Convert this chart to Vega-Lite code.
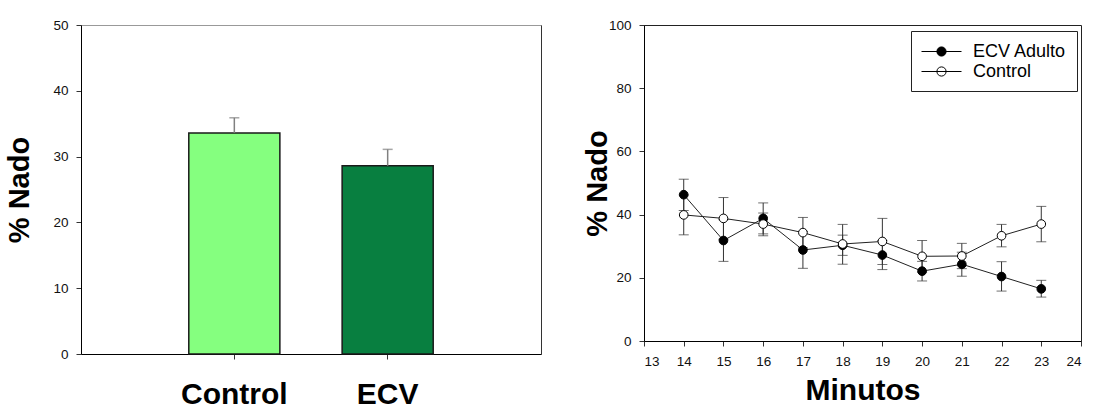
{
  "$schema": "https://vega.github.io/schema/vega-lite/v6.json",
  "background": "white",
  "padding": {"left": 5, "top": 17, "right": 5, "bottom": 0},
  "spacing": 40,
  "config": {
    "font": "Liberation Sans",
    "axis": {"grid": false, "domainColor": "#000", "tickColor": "#333", "labelColor": "#111", "titleColor": "#000", "labelFontSize": 13.5, "tickSize": 5, "domainWidth": 1}
  },
  "datasets": {
    "bars": [
      {"group": "Control", "mean": 33.6, "upper": 35.9},
      {"group": "ECV", "mean": 28.6, "upper": 31.1}
    ],
    "series": [
      {"minute": 14, "series": "ECV Adulto", "mean": 46.3, "lo": 41.3, "hi": 51.2},
      {"minute": 15, "series": "ECV Adulto", "mean": 31.8, "lo": 25.2, "hi": 38.4},
      {"minute": 16, "series": "ECV Adulto", "mean": 38.8, "lo": 33.9, "hi": 43.7},
      {"minute": 17, "series": "ECV Adulto", "mean": 28.8, "lo": 23.0, "hi": 34.6},
      {"minute": 18, "series": "ECV Adulto", "mean": 30.3, "lo": 27.1, "hi": 33.5},
      {"minute": 19, "series": "ECV Adulto", "mean": 27.2, "lo": 22.6, "hi": 31.8},
      {"minute": 20, "series": "ECV Adulto", "mean": 22.1, "lo": 19.0, "hi": 25.2},
      {"minute": 21, "series": "ECV Adulto", "mean": 24.3, "lo": 20.5, "hi": 28.1},
      {"minute": 22, "series": "ECV Adulto", "mean": 20.4, "lo": 15.8, "hi": 25.1},
      {"minute": 23, "series": "ECV Adulto", "mean": 16.5, "lo": 13.9, "hi": 19.2},
      {"minute": 14, "series": "Control", "mean": 39.9, "lo": 33.6, "hi": 46.2},
      {"minute": 15, "series": "Control", "mean": 38.8, "lo": 32.2, "hi": 45.4},
      {"minute": 16, "series": "Control", "mean": 37.0, "lo": 33.3, "hi": 40.5},
      {"minute": 17, "series": "Control", "mean": 34.3, "lo": 29.5, "hi": 39.1},
      {"minute": 18, "series": "Control", "mean": 30.7, "lo": 24.3, "hi": 36.9},
      {"minute": 19, "series": "Control", "mean": 31.5, "lo": 24.2, "hi": 38.8},
      {"minute": 20, "series": "Control", "mean": 26.8, "lo": 21.8, "hi": 31.8},
      {"minute": 21, "series": "Control", "mean": 26.9, "lo": 22.9, "hi": 30.9},
      {"minute": 22, "series": "Control", "mean": 33.3, "lo": 29.8, "hi": 36.9},
      {"minute": 23, "series": "Control", "mean": 37.0, "lo": 31.4, "hi": 42.6}
    ]
  },
  "hconcat": [
    {
      "width": 460,
      "height": 329,
      "data": {"name": "bars"},
      "view": {"stroke": "#999"},
      "resolve": {"axis": {"y": "independent"}},
      "encoding": {
        "x": {
          "field": "group", "type": "nominal", "sort": ["Control", "ECV"],
          "scale": {"paddingInner": 0.406, "paddingOuter": 0.703},
          "axis": {"title": null, "labelAngle": 0, "labelFontSize": 30, "labelFontWeight": "bold", "labelColor": "#000", "labelPadding": 20, "tickSize": 5}
        }
      },
      "layer": [
        {
          "mark": {"type": "bar", "stroke": "#1a1a1a", "strokeWidth": 1.5},
          "encoding": {
            "y": {
              "field": "mean", "type": "quantitative",
              "scale": {"domain": [0, 50], "nice": false},
              "axis": {"title": "% Nado", "titleFontSize": 29, "titleFontWeight": "bold", "titlePadding": 18, "values": [0, 10, 20, 30, 40, 50], "labelPadding": 8}
            },
            "color": {"field": "group", "type": "nominal", "scale": {"domain": ["Control", "ECV"], "range": ["#85FF7F", "#087F40"]}, "legend": null}
          }
        },
        {
          "mark": {"type": "rule", "color": "#808080", "strokeWidth": 1.5},
          "encoding": {
            "y": {"field": "mean", "type": "quantitative", "axis": {"orient": "right", "title": null, "labels": false, "ticks": false, "domainColor": "#333"}},
            "y2": {"field": "upper"}
          }
        },
        {
          "mark": {"type": "tick", "color": "#808080", "size": 10, "thickness": 1.5},
          "encoding": {"y": {"field": "upper", "type": "quantitative", "axis": null}}
        }
      ]
    },
    {
      "width": 437,
      "height": 316,
      "data": {"name": "series"},
      "view": {"stroke": "#222"},
      "encoding": {
        "x": {
          "field": "minute", "type": "quantitative",
          "scale": {"domain": [13, 24], "nice": false},
          "axis": {"title": "Minutos", "titleFontSize": 30, "titleFontWeight": "bold", "titlePadding": 8, "values": [13, 14, 15, 16, 17, 18, 19, 20, 21, 22, 23, 24], "labelPadding": 8}
        }
      },
      "layer": [
        {
          "mark": {"type": "line", "color": "#222", "strokeWidth": 1},
          "encoding": {
            "y": {
              "field": "mean", "type": "quantitative",
              "scale": {"domain": [0, 100], "nice": false},
              "axis": {"title": "% Nado", "titleFontSize": 29, "titleFontWeight": "bold", "titlePadding": -4, "values": [0, 20, 40, 60, 80, 100], "labelPadding": 8}
            },
            "detail": {"field": "series", "type": "nominal"}
          }
        },
        {
          "mark": {"type": "rule", "color": "#333", "strokeWidth": 1},
          "encoding": {"y": {"field": "lo", "type": "quantitative"}, "y2": {"field": "hi"}}
        },
        {
          "mark": {"type": "tick", "orient": "horizontal", "color": "#333", "size": 10, "thickness": 1},
          "encoding": {"y": {"field": "lo", "type": "quantitative"}}
        },
        {
          "mark": {"type": "tick", "orient": "horizontal", "color": "#333", "size": 10, "thickness": 1},
          "encoding": {"y": {"field": "hi", "type": "quantitative"}}
        },
        {
          "mark": {"type": "point", "shape": "circle", "filled": true, "size": 75, "stroke": "#000", "strokeWidth": 1, "opacity": 1},
          "encoding": {
            "y": {"field": "mean", "type": "quantitative"},
            "fill": {
              "field": "series", "type": "nominal",
              "scale": {"domain": ["ECV Adulto", "Control"], "range": ["#000000", "#ffffff"]},
              "legend": {
                "title": null, "orient": "none", "legendX": 830, "legendY": 6,
                "symbolType": "M-1,0H3M0.54,0A0.46,0.46 0 1,0 1.46,0A0.46,0.46 0 1,0 0.54,0Z",
                "symbolSize": 400, "symbolStrokeColor": "#000", "symbolStrokeWidth": 1,
                "labelFontSize": 18, "labelColor": "#000", "labelOffset": 31,
                "strokeColor": "#222", "fillColor": "#fff", "padding": 10, "rowPadding": 0
              }
            }
          }
        }
      ]
    }
  ]
}
